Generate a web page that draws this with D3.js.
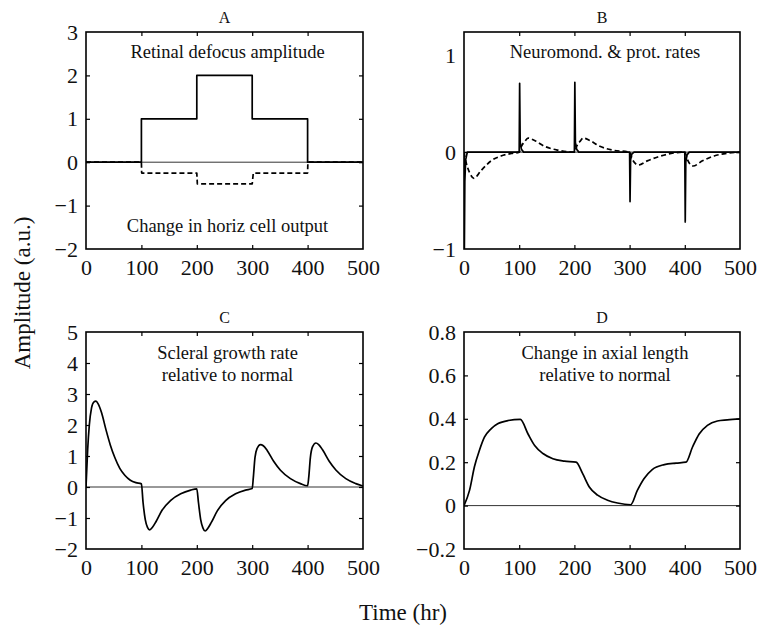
<!DOCTYPE html>
<html>
<head>
<meta charset="utf-8">
<script src="https://cdn.jsdelivr.net/npm/d3@7"></script>
<style>
  html, body { margin: 0; padding: 0; background: #fff; }
  svg { display: block; }
  svg text { font-family: "Liberation Serif", "Tinos", "Times New Roman", "Nimbus Roman", "DejaVu Serif", serif !important; fill: #111; }
</style>
</head>
<body>
<svg id="chart" width="760" height="630"></svg>
<script>
// ---------- DATA ----------
const timeTicks = [0, 100, 200, 300, 400, 500];

// Panel A: retinal defocus amplitude (step) and change in horizontal cell output (dashed)
const defocusT = [0, 100, 100, 200, 200, 300, 300, 400, 400, 500];
const defocusV = [0, 0, 1, 1, 2, 2, 1, 1, 0, 0];
const horizT = [0, 100, 100.5, 200, 201, 300, 302, 400, 400.5, 500];
const horizV = [0, 0, -0.25, -0.25, -0.5, -0.5, -0.25, -0.25, 0, 0];
const panelATicks = [-2, -1, 0, 1, 2, 3];

// Panel B: neuromodulator rate (solid spikes) and protein rate (dashed)
const neuroT = [0, 0.6, 1.5, 3, 6, 100, 100.8, 101.8, 104, 108, 200, 200.8, 201.8, 204, 208,
                300, 300.8, 301.8, 304, 308, 400, 400.8, 401.8, 404, 408, 500];
const neuroV = [0, -1.05, -0.3, -0.08, 0, 0, 0.71, 0.1, 0.03, 0, 0, 0.72, 0.1, 0.03, 0,
                0, -0.51, -0.08, -0.02, 0, 0, -0.72, -0.1, -0.03, 0, 0];
const protT = [0, 4, 10, 18, 31, 49, 67, 86, 100,
               104, 110, 116, 128, 146, 170, 200,
               204, 210, 216, 228, 246, 270, 300,
               305, 316, 332, 351, 375, 400,
               405, 415, 432, 453, 477, 500];
const protV = [0, -0.11, -0.21, -0.27, -0.19, -0.09, -0.04, -0.014, 0,
               0.06, 0.11, 0.145, 0.12, 0.06, 0.02, 0,
               0.06, 0.11, 0.145, 0.12, 0.06, 0.02, 0,
               -0.075, -0.133, -0.09, -0.05, -0.014, 0,
               -0.08, -0.143, -0.09, -0.04, -0.012, 0];
const panelBTicks = [-1, 0, 1];

// Panel C: scleral growth rate relative to normal
const scleralT = [0, 3, 6, 10, 14, 18, 22, 28, 36, 44, 52, 61, 70, 80, 90, 100,
                  103, 107, 111, 115, 120, 126, 137, 153, 171, 189, 200,
                  203, 207, 211, 215, 220, 226, 237, 252, 270, 288, 300,
                  302, 305, 309, 315, 320, 327, 339, 351, 369, 387, 400,
                  402, 405, 409, 415, 420, 427, 439, 451, 469, 487, 500];
const scleralV = [0, 1.2, 2.0, 2.55, 2.74, 2.77, 2.68, 2.4, 1.85, 1.35, 0.95, 0.6, 0.38, 0.22, 0.14, 0.1,
                  -0.5, -1.05, -1.3, -1.38, -1.3, -1.13, -0.76, -0.43, -0.22, -0.1, -0.06,
                  -0.5, -1.05, -1.32, -1.42, -1.33, -1.15, -0.77, -0.44, -0.22, -0.1, -0.05,
                  0.3, 0.95, 1.25, 1.37, 1.33, 1.18, 0.82, 0.54, 0.27, 0.11, 0.04,
                  0.3, 0.95, 1.3, 1.42, 1.37, 1.2, 0.83, 0.55, 0.27, 0.11, 0.03];
const panelCTicks = [-2, -1, 0, 1, 2, 3, 4, 5];

// Panel D: change in axial length relative to normal
const axialT = [0, 10, 19, 28, 37, 49, 61, 80, 102,
                116, 128, 143, 161, 182, 203,
                215, 227, 242, 260, 278, 302,
                314, 326, 341, 363, 384, 402,
                414, 426, 441, 459, 477, 500];
const axialV = [0, 0.07, 0.18, 0.255, 0.315, 0.354, 0.377, 0.392, 0.397,
                0.33, 0.277, 0.24, 0.216, 0.205, 0.2,
                0.147, 0.086, 0.048, 0.025, 0.012, 0.004,
                0.07, 0.124, 0.166, 0.189, 0.196, 0.2,
                0.27, 0.33, 0.37, 0.39, 0.395, 0.4];
const panelDTicks = [-0.2, 0, 0.2, 0.4, 0.6, 0.8];

// ---------- DRAW ----------
const SERIF = '"Liberation Serif", "Tinos", "Times New Roman", "Nimbus Roman", "DejaVu Serif", serif';
const svg = d3.select("#chart");
const zip = (ts, vs) => ts.map((t, i) => [t, vs[i]]);
const fmtNum = d => (d < 0 ? "\u2212" : "") + Math.abs(d);

const panels = [
  { id: "A", x0: 86, x1: 363, y0: 32, y1: 249, yDomain: [-2, 3], yTicks: panelATicks,
    series: [
      { data: zip(defocusT, defocusV), dash: null, curve: d3.curveLinear },
      { data: zip(horizT, horizV), dash: "5,3", curve: d3.curveLinear }
    ],
    notes: [{ text: "Retinal defocus amplitude", dy: 26 }, { text: "Change in horiz cell output", dy: 200 }] },
  { id: "B", x0: 464, x1: 740, y0: 32, y1: 249, yDomain: [-1, 1.24], yTicks: panelBTicks,
    series: [
      { data: zip(neuroT, neuroV), dash: null, curve: d3.curveLinear },
      { data: zip(protT, protV), dash: "5,3", curve: d3.curveMonotoneX }
    ],
    notes: [{ text: "Neuromond. & prot. rates", dy: 26 }] },
  { id: "C", x0: 86, x1: 363, y0: 332, y1: 549, yDomain: [-2, 5], yTicks: panelCTicks,
    series: [{ data: zip(scleralT, scleralV), dash: null, curve: d3.curveMonotoneX }],
    notes: [{ text: "Scleral growth rate", dy: 27 }, { text: "relative to normal", dy: 49 }] },
  { id: "D", x0: 464, x1: 740, y0: 332, y1: 549, yDomain: [-0.2, 0.8], yTicks: panelDTicks,
    series: [{ data: zip(axialT, axialV), dash: null, curve: d3.curveMonotoneX }],
    notes: [{ text: "Change in axial length", dy: 27 }, { text: "relative to normal", dy: 49 }] }
];

panels.forEach((p, pi) => {
  const x = d3.scaleLinear().domain([0, 500]).range([p.x0, p.x1]);
  const y = d3.scaleLinear().domain(p.yDomain).range([p.y1, p.y0]);
  const g = svg.append("g");

  const clipId = "clip" + pi;
  svg.append("clipPath").attr("id", clipId)
    .append("rect").attr("x", p.x0).attr("y", p.y0).attr("width", p.x1 - p.x0).attr("height", p.y1 - p.y0);

  // zero reference line
  g.append("line")
    .attr("x1", p.x0).attr("x2", p.x1).attr("y1", y(0)).attr("y2", y(0))
    .attr("stroke", "#333").attr("stroke-width", 1);

  // series
  p.series.forEach(s => {
    const line = d3.line().x(d => x(d[0])).y(d => y(d[1])).curve(s.curve);
    g.append("path")
      .attr("d", line(s.data))
      .attr("clip-path", `url(#${clipId})`)
      .attr("fill", "none")
      .attr("stroke", "#000")
      .attr("stroke-width", 1.7)
      .attr("stroke-dasharray", s.dash)
      .attr("stroke-linejoin", "round");
  });

  // axes
  const fs = "22px";
  const axB = g.append("g").attr("transform", `translate(0,${p.y1})`)
    .call(d3.axisBottom(x).tickValues(timeTicks).tickSize(-4).tickPadding(10));
  const axL = g.append("g").attr("transform", `translate(${p.x0},0)`)
    .call(d3.axisLeft(y).tickValues(p.yTicks).tickFormat(fmtNum).tickSize(-4).tickPadding(8));
  const axT = g.append("g").attr("transform", `translate(0,${p.y0})`)
    .call(d3.axisTop(x).tickValues(timeTicks.slice(1, -1)).tickFormat("").tickSize(-4));
  const axR = g.append("g").attr("transform", `translate(${p.x1},0)`)
    .call(d3.axisRight(y).tickValues(p.yTicks.slice(1, -1)).tickFormat("").tickSize(-4));
  [axB, axL, axT, axR].forEach(a => {
    a.attr("font-family", SERIF);
    a.select(".domain").remove();
    a.selectAll(".tick line").attr("stroke", "#000").attr("stroke-width", 1.2);
    a.selectAll("text").attr("font-family", SERIF)
      .attr("font-size", fs).attr("fill", "#111");
  });
  axB.selectAll(".tick").filter(d => d === 0 || d === 500).select("line").remove();
  axL.selectAll(".tick").filter(d => d === p.yTicks[0] || d === p.yTicks[p.yTicks.length - 1]).select("line").remove();

  // frame
  g.append("rect")
    .attr("x", p.x0).attr("y", p.y0).attr("width", p.x1 - p.x0).attr("height", p.y1 - p.y0)
    .attr("fill", "none").attr("stroke", "#000").attr("stroke-width", 1.6);

  // panel letter
  g.append("text").attr("x", (p.x0 + p.x1) / 2).attr("y", p.y0 - 9)
    .attr("text-anchor", "middle").attr("font-family", SERIF).attr("font-size", "16px").text(p.id);

  // annotations
  p.notes.forEach(n => {
    g.append("text").attr("x", (p.x0 + p.x1) / 2 + 3).attr("y", p.y0 + n.dy)
      .attr("text-anchor", "middle").attr("font-family", SERIF).attr("font-size", "18.5px").text(n.text);
  });
});

// shared axis titles
svg.append("text").attr("transform", "translate(30,293) rotate(-90)")
  .attr("text-anchor", "middle").attr("font-family", SERIF).attr("font-size", "23px").text("Amplitude (a.u.)");
svg.append("text").attr("x", 403).attr("y", 620)
  .attr("text-anchor", "middle").attr("font-family", SERIF).attr("font-size", "23px").text("Time (hr)");
</script>
</body>
</html>
